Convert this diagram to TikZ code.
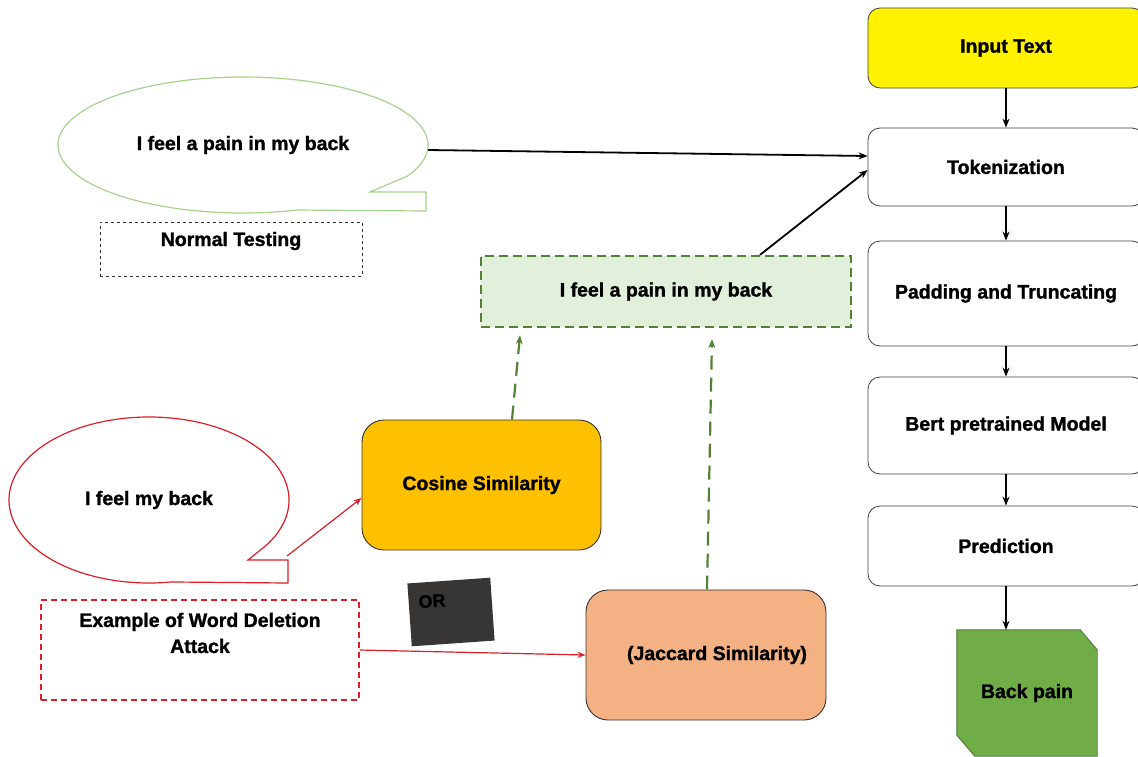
\documentclass[tikz,border=0pt]{standalone}
\usepackage{fontspec}
\setmainfont[BoldFeatures={FakeBold=1.3}]{Liberation Sans}
\usetikzlibrary{arrows.meta,shapes.geometric,backgrounds}
\definecolor{bubgreen}{HTML}{A9D18E}
\definecolor{myred}{HTML}{DC1E28}
\definecolor{gfill}{HTML}{E2EFDA}
\definecolor{gline}{HTML}{548235}
\definecolor{cosfill}{HTML}{FFC000}
\definecolor{jacfill}{HTML}{F4B183}
\definecolor{bpfill}{HTML}{70AD47}
\definecolor{bpline}{HTML}{4E7A31}
\definecolor{orgray}{HTML}{383535}
\begin{document}
\begin{tikzpicture}[x=1pt,y=-1pt,
  font=\fontsize{19.5}{26}\selectfont\bfseries,
  flowbox/.style={draw=black!75, rounded corners=12pt, minimum width=276pt, inner sep=0pt, line width=0.8pt, fill=white},
  simbox/.style={draw=black!80, rounded corners=22pt, inner sep=0pt, line width=0.9pt},
  arr/.style={-{Stealth[length=9pt,width=7pt]}, line width=1.8pt, black},
  redarr/.style={-{Stealth[length=8pt,width=6pt]}, line width=1.2pt, myred},
  garr/.style={-{Stealth[length=9pt,width=7pt]}, line width=2.2pt, dash pattern=on 14pt off 8pt, gline},
  txt/.style={inner sep=0pt, align=center}
]
\useasboundingbox (0,0) rectangle (1138,756);

% right flow column
\node[flowbox, fill=yellow, minimum height=80pt] (inp) at (1006,48) {Input Text};
\node[flowbox, minimum height=78pt] (tok) at (1006,167) {Tokenization};
\node[flowbox, minimum height=105pt] (pad) at (1006,293.5) {Padding and Truncating};
\node[flowbox, minimum height=97pt] (bert) at (1006,425.5) {Bert pretrained Model};
\node[flowbox, minimum height=80pt] (pred) at (1006,546) {Prediction};
\node[inner sep=0pt, minimum width=140pt, minimum height=126pt] (bp) at (1027,693) {Back pain};
\begin{scope}[on background layer]
\draw[fill=bpfill, draw=bpline, line width=0.9pt]
  (bp.north west) -- ([xshift=-17pt]bp.north east) -- ([yshift=-20pt]bp.north east)
  -- (bp.south east) -- ([xshift=18pt]bp.south west) -- ([yshift=21pt]bp.south west) -- cycle;
\end{scope}
\draw[arr] (inp) -- (tok);
\draw[arr] (tok) -- (pad);
\draw[arr] (pad) -- (bert);
\draw[arr] (bert) -- (pred);
\draw[arr] (pred.south) -- (pred.south |- bp.north);

% green speech bubble (normal text)
\node[ellipse, inner sep=0pt, minimum width=370pt, minimum height=136pt] (b1) at (243,145) {I feel a pain in my back};
\draw[bubgreen, line width=1.2pt] (243,145) ++(27:185 and 68)
  arc[start angle=27, end angle=-287, x radius=185, y radius=68]
  -- (426,211) -- (426,192) -- (370,192) -- cycle;
\node[draw=black!80, dashed, line width=0.6pt, minimum width=262pt, minimum height=54pt, inner sep=0pt] (nt) at (231,249) {};
\node[txt] (ntl) at (231,241) {Normal Testing};

% green dashed text box
\node[draw=gline, fill=gfill, line width=2.2pt, dash pattern=on 9pt off 5pt, minimum width=370pt, minimum height=71pt, inner sep=0pt] (gbox) at (666,291.5) {I feel a pain in my back};

\draw[arr] ([yshift=-5pt]b1.east) -- ([yshift=11pt]tok.west);
\draw[arr] ([xshift=94pt]gbox.north) -- ([yshift=-3pt]tok.west);

% red speech bubble (attack)
\node[ellipse, inner sep=0pt, minimum width=280pt, minimum height=166pt] (b2) at (149,500) {I feel my back};
\draw[myred, line width=1.2pt] (149,500) ++(32.5:140 and 83)
  arc[start angle=32.5, end angle=-279, x radius=140, y radius=83]
  -- (288,583) -- (288,560) -- (248,560) -- cycle;
\coordinate (rtail) at (287,556);

\node[draw=myred, line width=1.1pt, dash pattern=on 6pt off 4pt, minimum width=318pt, minimum height=100pt, inner sep=0pt] (ex) at (200,650) {};
\node[txt] (exl) at (200,633) {Example of Word Deletion\\Attack};

% similarity boxes
\node[simbox, fill=cosfill, minimum width=239pt, minimum height=130pt] (cos) at (481.5,485) {Cosine Similarity};
\node[simbox, fill=jacfill, minimum width=240pt, minimum height=130pt] (jac) at (706,655) {\hspace*{22pt}(Jaccard Similarity)};

% OR box
\node[fill=orgray, rotate=4, minimum width=83pt, minimum height=63pt, inner sep=0pt] (orb) at (451,612) {};
\node[rotate=4, inner sep=0pt, font=\fontsize{18}{20}\selectfont\bfseries] (orl) at (432,601) {OR};

\draw[redarr] (rtail) -- ([yshift=-13pt]cos.west);
\draw[redarr] (ex.east) -- (jac.west);
\draw[garr] ([xshift=30.5pt]cos.north) -- ([xshift=-146pt,yshift=-7pt]gbox.south);
\draw[garr] ([xshift=1pt]jac.north) -- ([xshift=46pt,yshift=-11pt]gbox.south);
\end{tikzpicture}
\end{document}
